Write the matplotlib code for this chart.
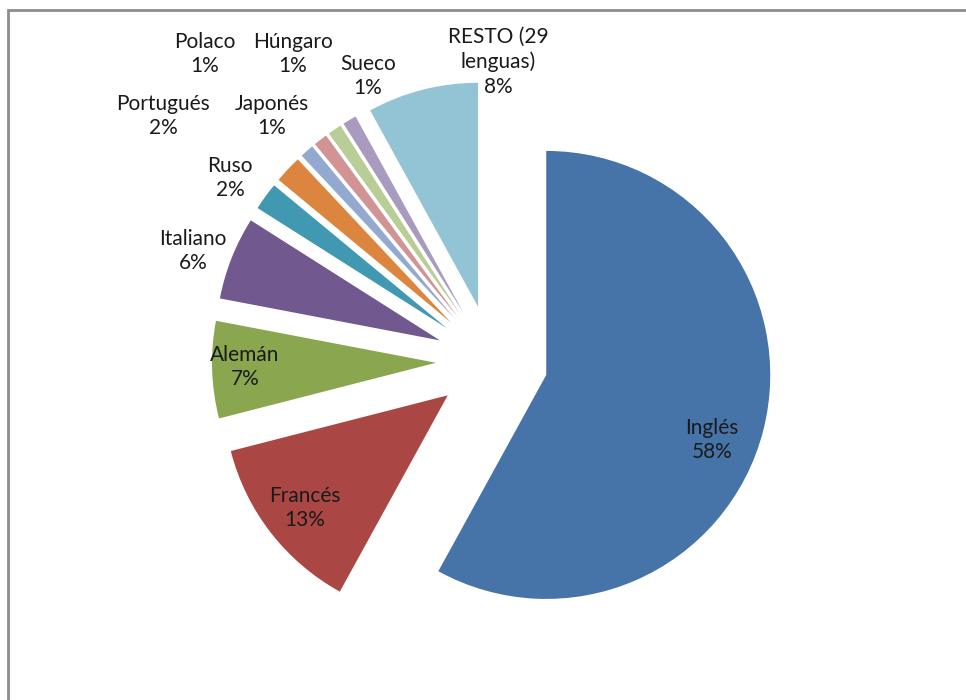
import matplotlib
matplotlib.use("Agg")
import matplotlib.pyplot as plt
from matplotlib.patches import Rectangle
import numpy as np

plt.rcParams['font.family'] = ['Lato', 'DejaVu Sans']

# Share of languages (percent)
languages = ["Inglés", "Francés", "Alemán", "Italiano", "Ruso", "Portugués",
             "Japonés", "Polaco", "Húngaro", "Sueco", "RESTO (29\nlenguas)"]
shares = [58, 13, 7, 6, 2, 2, 1, 1, 1, 1, 8]

colors = ["#4674A8", "#AA4744", "#8AA64F", "#71588F", "#4099B0", "#DB853E",
          "#93A9D0", "#D19393", "#B9CD96", "#A99BBE", "#93C4D6"]

W, H = 966, 700
CX, CY, R = 492, 361, 224   # pie centre and radius in pixels

fig = plt.figure(figsize=(W / 100, H / 100), dpi=100)
ax = fig.add_axes([0, 0, 1, 1])

explode = [0.25] * len(shares)
wedges, _ = ax.pie(shares, colors=colors, startangle=90, counterclock=False,
                   explode=explode, radius=1.0,
                   wedgeprops=dict(linewidth=0))

ax.set_xlim(-CX / R, (W - CX) / R)
ax.set_ylim(-(H - CY) / R, CY / R)
ax.set_aspect('auto')
ax.axis('off')

# label placements in pixel space (centre of the text block)
label_px = [(712, 440), (305, 508), (245, 367), (193, 251), (230, 178),
            (163, 116), (272, 116), (205, 54), (293, 54), (368, 76), (498, 62)]

for name, val, (px, py) in zip(languages, shares, label_px):
    x = (px - CX) / R
    y = (CY - py) / R
    ax.text(x, y, f"{name}\n{val}%", ha='center', va='center',
            fontsize=15, color='#1a1a1a', linespacing=1.3)

# chart area border
fig.patches.append(Rectangle((8 / W, -0.1), 1.2, (H - 10) / H + 0.1,
                             transform=fig.transFigure, fill=False,
                             edgecolor='#8c8c8c', linewidth=2))

fig.savefig("out.png", dpi=100)
